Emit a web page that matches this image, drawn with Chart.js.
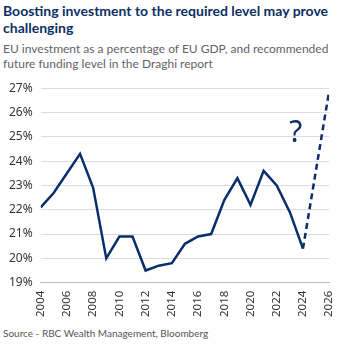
<!DOCTYPE html>
<html>
<head>
<meta charset="utf-8">
<script src="https://cdn.jsdelivr.net/npm/chart.js@4"></script>
<style>
  html, body { margin: 0; padding: 0; background: #fff; }
  body { width: 346px; height: 352px; position: relative; overflow: hidden; font-family: Lato, sans-serif; }
  #title { position: absolute; left: 3px; top: 2px; width: 340px; font-size: 14px; font-weight: bold; color: #0b2f66; line-height: 17px; }
  #subtitle { position: absolute; left: 3px; top: 41px; width: 340px; font-size: 12px; color: #5f6368; line-height: 15px; }
  #wrap { position: absolute; left: 0; top: 73px; width: 346px; height: 247px; }
  #source { position: absolute; left: 3px; top: 327px; font-size: 10px; color: #555; }
</style>
</head>
<body>
<div id="title">Boosting investment to the required level may prove challenging</div>
<div id="subtitle">EU investment as a percentage of EU GDP, and recommended future funding level in the Draghi report</div>
<div id="wrap"><canvas id="chart"></canvas></div>
<div id="source">Source - RBC Wealth Management, Bloomberg</div>
<script>
// EU investment, % of GDP
const years = [2004, 2005, 2006, 2007, 2008, 2009, 2010, 2011, 2012, 2013, 2014,
               2015, 2016, 2017, 2018, 2019, 2020, 2021, 2022, 2023, 2024];
const investment = [22.1, 22.7, 23.5, 24.3, 22.9, 20.0, 20.9, 20.9, 19.5, 19.7, 19.8,
                    20.6, 20.9, 21.0, 22.4, 23.3, 22.2, 23.6, 23.0, 21.9, 20.4];

// Draghi report target path
const targetYears = [2024, 2026];
const targetLevel = [20.4, 26.9];

const yTicks = [19, 20, 21, 22, 23, 24, 25, 26, 27];

const navy = '#0a2d6b';

// big "?" placed in data space
const questionMark = {
  id: 'questionMark',
  afterDatasetsDraw(chart) {
    const { ctx, scales } = chart;
    const x = scales.x.getPixelForValue(2023.45);
    const y = scales.y.getPixelForValue(25.15);
    ctx.save();
    ctx.fillStyle = navy;
    ctx.font = '30px "Noto Sans", sans-serif';
    ctx.textAlign = 'center';
    ctx.textBaseline = 'middle';
    ctx.fillText('?', x, y);
    ctx.restore();
  }
};

new Chart(document.getElementById('chart'), {
  type: 'line',
  data: {
    datasets: [
      {
        data: years.map((yr, i) => ({ x: yr, y: investment[i] })),
        borderColor: navy,
        borderWidth: 2.5,
        pointRadius: 0,
        tension: 0
      },
      {
        data: targetYears.map((yr, i) => ({ x: yr, y: targetLevel[i] })),
        borderColor: navy,
        borderWidth: 2.5,
        borderDash: [6, 4],
        pointRadius: 0,
        tension: 0
      }
    ]
  },
  options: {
    responsive: true,
    maintainAspectRatio: false,
    animation: false,
    layout: { padding: { left: 1, right: 10, top: 2, bottom: 0 } },
    plugins: { legend: { display: false }, tooltip: { enabled: false } },
    scales: {
      x: {
        type: 'linear',
        min: 2004,
        max: 2026,
        ticks: {
          stepSize: 2,
          maxRotation: 90,
          minRotation: 90,
          color: '#333',
          font: { family: '"Noto Sans", sans-serif', size: 11.5 },
          callback: v => String(v)
        },
        grid: { display: false, drawOnChartArea: false, drawTicks: true, tickLength: 5, color: '#c0c0c0' },
        border: { display: true, color: '#c0c0c0' }
      },
      y: {
        min: 19,
        max: 27,
        afterBuildTicks: axis => { axis.ticks = yTicks.map(v => ({ value: v })); },
        ticks: {
          color: '#333',
          padding: 8,
          font: { family: '"Noto Sans", sans-serif', size: 12 },
          callback: v => v + '%'
        },
        grid: { color: '#dcdcdc', drawTicks: false },
        border: { display: false }
      }
    }
  },
  plugins: [questionMark]
});
</script>
</body>
</html>
